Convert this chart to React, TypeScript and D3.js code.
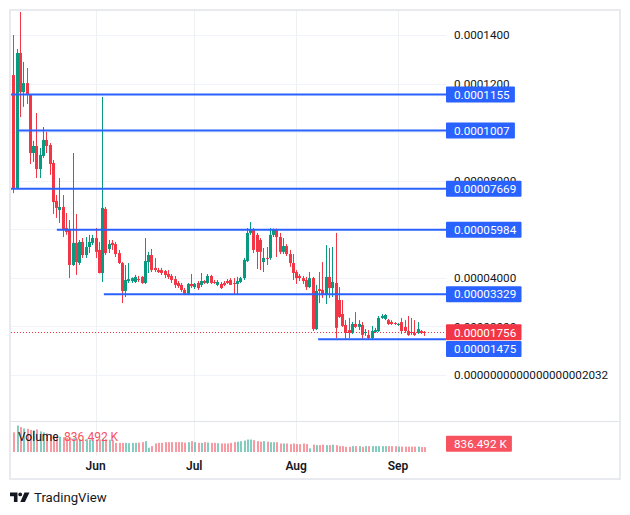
import React from "react";
import * as d3 from "d3";

// ---- data (prices in millionths, i.e. value * 1e-6) ----
const PRICE_UNIT = 1e-6;
const startDay = Date.UTC(2024, 4, 7);
const DAY = 86400000;

const openM = [123.5,77.0,132.6,116.5,120.2,115.3,91.4,94.3,84.8,90.2,96.8,94.7,87.3,71.7,67.9,69.2,60.5,59.7,45.3,54.4,46.1,54.8,49.4,52.7,54.4,56.4,51.5,42.0,68.4,51.9,54.4,53.9,50.2,46.1,34.6,38.7,38.7,38.3,39.5,40.4,37.9,46.5,49.4,44.1,43.2,43.2,42.8,41.6,40.8,39.5,37.9,37.1,35.0,33.4,37.5,36.2,37.9,37.1,38.7,37.9,40.8,38.3,37.1,37.5,37.9,38.7,39.1,37.9,37.5,38.3,39.9,46.9,58.5,59.7,57.7,55.6,46.5,48.2,48.2,57.7,60.1,56.8,50.7,53.1,49.8,46.1,42.4,40.8,39.9,39.1,36.2,39.9,18.9,35.4,35.0,32.9,40.4,35.8,37.9,30.9,25.1,20.6,18.5,17.3,21.0,19.8,20.6,17.3,16.5,15.2,17.7,18.1,23.5,23.1,22.6,21.8,21.4,20.6,21.8,19.8,18.1,17.7,17.3,17.3,18.1,17.7];
const highM = [140.0,134.2,149.5,128.9,126.4,115.6,96.4,107.9,93.5,102.1,100.1,95.5,88.5,74.1,81.1,74.1,66.7,63.8,91.4,66.3,55.6,56.4,56.8,57.7,57.7,60.5,54.8,114.5,69.2,55.6,55.6,54.8,51.5,46.5,45.3,46.1,40.2,41.2,40.8,40.8,56.4,50.7,51.9,48.2,44.1,44.1,43.2,43.2,41.6,40.8,38.7,37.9,35.8,37.9,41.6,37.9,38.7,42.0,39.1,41.6,41.2,39.1,39.1,38.3,38.7,39.5,39.9,39.9,40.4,40.4,48.2,60.5,63.0,60.5,58.5,56.4,52.3,52.7,60.5,60.3,60.3,58.5,56.4,53.9,51.5,49.8,43.2,41.6,40.8,40.4,42.4,40.4,37.1,42.4,46.5,53.5,52.3,52.7,58.5,36.2,30.9,22.6,23.5,21.8,25.9,22.6,21.8,18.9,18.5,20.2,19.4,24.3,25.1,25.1,23.1,22.6,21.8,21.4,23.5,22.6,24.3,23.5,22.6,21.8,18.5,18.1];
const lowM = [74.9,76.5,106.2,110.4,111.6,86.9,87.7,81.1,81.1,89.4,91.4,82.4,66.3,64.7,62.6,56.8,57.7,39.9,44.9,41.2,45.3,48.2,48.2,50.2,53.5,48.2,41.8,38.3,49.4,50.2,51.5,48.6,45.7,29.6,32.1,37.9,37.9,37.9,38.3,37.5,37.5,42.0,42.4,42.4,42.0,41.2,39.9,39.5,37.9,35.8,35.8,34.2,32.9,32.9,35.8,35.4,35.0,36.2,37.5,37.5,37.5,37.5,36.6,35.4,36.6,37.5,37.1,33.4,33.4,37.9,39.1,46.5,57.7,50.2,43.6,43.2,42.4,45.3,47.4,56.8,48.6,49.8,49.8,49.0,44.5,39.1,37.5,38.7,37.5,35.0,35.8,18.1,18.5,29.6,31.7,29.2,31.7,32.1,15.2,23.5,19.8,14.4,15.2,16.9,19.4,18.5,14.4,16.1,14.4,14.8,17.3,17.7,23.1,22.6,20.6,20.6,20.6,20.2,16.9,17.3,16.1,16.5,16.1,16.9,16.9,16.1];
const closeM = [77.0,132.6,116.5,120.2,115.3,91.4,94.3,84.8,90.6,96.8,94.3,86.9,71.2,68.8,69.2,59.7,58.9,45.3,54.4,46.5,54.8,49.4,52.7,54.8,56.4,50.7,42.0,68.8,50.2,53.9,53.5,49.8,46.1,34.6,39.1,39.5,39.9,40.4,39.1,37.9,46.9,49.4,43.2,43.2,42.4,42.0,41.2,40.4,39.1,37.1,36.6,35.0,33.4,37.5,36.6,37.5,35.8,38.7,37.9,40.8,37.9,37.9,38.3,35.8,37.1,37.9,37.1,37.5,38.7,39.9,47.4,58.5,59.7,51.5,50.7,50.7,48.2,47.8,57.7,60.1,56.8,50.7,53.1,49.8,46.1,42.0,39.9,39.9,38.7,36.2,39.9,18.9,34.6,34.6,32.9,40.4,35.8,38.3,19.4,23.9,20.2,17.3,17.3,21.0,19.8,21.0,16.5,17.7,15.2,18.1,18.5,23.5,24.3,24.7,21.0,21.0,21.0,21.0,18.1,18.1,16.5,17.3,16.5,18.9,17.3,17.56];
// volume in thousands
const volumeK = [3340,4500,4230,4000,3940,3760,3670,3840,3500,3340,
  3170,3000,2840,2670,2590,2500,2420,2500,2340,2250,
  2170,2120,2170,2120,2170,2080,2120,2250,2170,2080,
  2000,1550,1550,1550,1550,1500,1550,1550,1600,1670,
  1840,720,1000,1450,1550,1550,1670,1670,1670,1670,
  1670,1670,1600,1670,1840,1670,1550,1550,1670,1600,
  1550,1550,1500,1450,1450,1450,1550,1670,1750,1840,
  1950,2120,2120,2000,1840,1750,1840,1750,1670,1670,
  1670,1450,1450,1450,1340,1450,1340,1340,1450,1340,
  620,1250,1170,1170,1250,1170,1170,1250,1170,1000,
  1000,890,890,1000,1000,1000,890,1000,1000,1000,
  1000,1000,1000,1000,1000,1000,1000,920,920,920,
  920,920,920,920,840,836.492];

const priceTicks = [0, 0.00002, 0.00004, 0.00006, 0.00008, 0.0001, 0.00012, 0.00014];
const priceTickLabels = ["0." + "0".repeat(18) + "2032", "0.00002000", "0.00004000", "0.00006000", "0.00008000", "0.0001000", "0.0001200", "0.0001400"];

const levelValues = [0.0001155, 0.0001007, 0.00007669, 0.00005984, 0.00003329, 0.00001475];
const levelLabels = ["0.0001155", "0.0001007", "0.00007669", "0.00005984", "0.00003329", "0.00001475"];
const levelStartDay = [null, 1.4, null, 13.2, 27.5, 92.7];

const lastPriceLabel = "0.00001756";
const volumeLabel = "836.492 K";
const monthDates = [Date.UTC(2024, 5, 1), Date.UTC(2024, 6, 1), Date.UTC(2024, 7, 1), Date.UTC(2024, 8, 1)];
const monthLabels = ["Jun", "Jul", "Aug", "Sep"];

// ---- styling ----
const W = 630, H = 515;
const paneL = 11, paneR = 446, paneT = 11, paneB = 421;
const volB = 452;
const UP = "#089981", DOWN = "#f23645";
const BLUE = "#2962ff";
const FONT = "Roboto, 'Noto Sans', sans-serif";
const FS = 11.7;

function boxWidth(s: string) {
  let w = 0;
  for (const ch of s) {
    if (ch === ".") w += 3.1;
    else if (ch === " ") w += 3;
    else if (ch === "K") w += 7.2;
    else w += 6.6;
  }
  return w + 13;
}

export default function App() {
  const candles = openM.map((o, i) => ({
    t: startDay + i * DAY,
    o: o * PRICE_UNIT,
    h: highM[i] * PRICE_UNIT,
    l: lowM[i] * PRICE_UNIT,
    c: closeM[i] * PRICE_UNIT,
    v: volumeK[i] * 1000,
  }));

  const x = d3.scaleUtc()
    .domain([new Date(startDay), new Date(startDay + 125 * DAY)])
    .range([13.45, 424.3]);
  const y = d3.scaleLinear().domain([0, 0.00014]).range([375, 35]);
  const yv = d3.scaleLinear().domain([0, 5.27e6]).range([volB, paneB]);

  const last = candles[candles.length - 1];
  const yLast = y(last.c);

  const levelLabelY = levelValues.map((v) => {
    const yy = y(v);
    if (Math.abs(yy - yLast) < 16.5) return yy >= yLast ? yLast + 16.7 : yLast - 16.7;
    return yy;
  });

  return (
    <div style={{ position: "fixed", left: 0, top: 0 }}>
      <svg width={W} height={H} style={{ display: "block", background: "#fff" }} fontFamily={FONT}>
        <rect x={0} y={0} width={W} height={H} fill="#fff" />
        <defs>
          <clipPath id="pane">
            <rect x={paneL} y={paneT} width={paneR - paneL} height={paneB - paneT} />
          </clipPath>
        </defs>
        {/* grid */}
        {priceTicks.map((t, i) => (
          <line key={"hg" + i} x1={paneL} x2={paneR} y1={Math.round(y(t)) + 0.5} y2={Math.round(y(t)) + 0.5} stroke="#f0f3fa" />
        ))}
        {monthDates.map((d, i) => (
          <line key={"vg" + i} x1={Math.round(x(new Date(d))) + 0.5} x2={Math.round(x(new Date(d))) + 0.5} y1={paneT} y2={456} stroke="#eef0f4" />
        ))}

        {/* volume */}
        {candles.map((d, i) => {
          const xs = Math.round(x(new Date(d.t)));
          const top = yv(d.v);
          return (
            <rect key={"v" + i} x={xs} y={top} width={2} height={volB - top}
              fill={d.c >= d.o ? "rgba(8,153,129,0.5)" : "rgba(242,54,69,0.5)"} />
          );
        })}

        {/* candles */}
        <g clipPath="url(#pane)">
          {candles.map((d, i) => {
            const xs = Math.round(x(new Date(d.t)));
            const col = d.c >= d.o ? UP : DOWN;
            const yt = y(Math.max(d.o, d.c));
            const yb = y(Math.min(d.o, d.c));
            return (
              <g key={"c" + i}>
                <line x1={xs + 0.5} x2={xs + 0.5} y1={y(d.h)} y2={y(d.l)} stroke={col} strokeWidth={1} />
                <rect x={xs - 1} y={yt} width={3} height={Math.max(1, yb - yt)} fill={col} />
              </g>
            );
          })}
          {/* horizontal levels */}
          {levelValues.map((v, i) => {
            const sd = levelStartDay[i];
            const x1 = sd === null ? 10 : x(new Date(startDay + sd * DAY));
            return <line key={"lv" + i} x1={x1} x2={paneR} y1={y(v)} y2={y(v)} stroke={BLUE} strokeWidth={2} />;
          })}
          {/* last price line */}
          <line x1={paneL} x2={paneR} y1={Math.round(yLast) + 0.5} y2={Math.round(yLast) + 0.5} stroke={DOWN} strokeWidth={1} strokeDasharray="1 2" />
        </g>

        {/* price axis labels */}
        {priceTicks.map((t, i) => (
          <text key={"pt" + i} x={454} y={y(t)} dy="0.36em" fontSize={FS} fill="#131722">{priceTickLabels[i]}</text>
        ))}
        {levelValues.map((v, i) => {
          const yy = levelLabelY[i];
          return (
            <g key={"lb" + i}>
              <rect x={446} y={yy - 8} width={boxWidth(levelLabels[i])} height={16} fill={BLUE} rx={1} />
              <text x={454} y={yy} dy="0.36em" fontSize={FS} fill="#fff">{levelLabels[i]}</text>
            </g>
          );
        })}
        <rect x={446} y={yLast - 8} width={boxWidth(lastPriceLabel)} height={16} fill={DOWN} rx={1} />
        <text x={454} y={yLast} dy="0.36em" fontSize={FS} fill="#fff">{lastPriceLabel}</text>

        {/* volume legend & label */}
        <text x={18} y={437} dy="0.36em" fontSize={12} fill="#131722">Volume</text>
        <text x={64} y={437} dy="0.36em" fontSize={12} fill="#f7525f">{volumeLabel}</text>
        <rect x={446} y={yv(last.v) - 3.5 - 0} width={boxWidth(volumeLabel)} height={16} fill="#f7525f" rx={1}
          transform={`translate(0, ${443.7 - (yv(last.v) - 3.5) - 8})`} />
        <text x={454} y={443.7} dy="0.36em" fontSize={FS} fill="#fff">{volumeLabel}</text>

        {/* time axis */}
        {monthDates.map((d, i) => (
          <text key={"mt" + i} x={x(new Date(d))} y={466} dy="0.36em" textAnchor="middle" fontSize={12} fontWeight={600} fill="#131722">{monthLabels[i]}</text>
        ))}

        {/* frame and separator */}
        <line x1={10} x2={620} y1={421.5} y2={421.5} stroke="#e0e3eb" />
        <rect x={10} y={10} width={610} height={469} fill="none" stroke="#e9eaef" strokeWidth={2} />

        {/* TradingView logo */}
        <g fill="#131722">
          <path d="M10 492.5 h7.5 v9.5 h-3.6 v-5.8 h-3.9 z" />
          <circle cx={20.2} cy={494.4} r={1.9} />
          <path d="M24.5 492.5 h5 l-4.6 9.5 h-4.6 z" />
        </g>
        <text x={34} y={502} fontSize={13.2} fill="#131722">TradingView</text>
      </svg>
    </div>
  );
}
